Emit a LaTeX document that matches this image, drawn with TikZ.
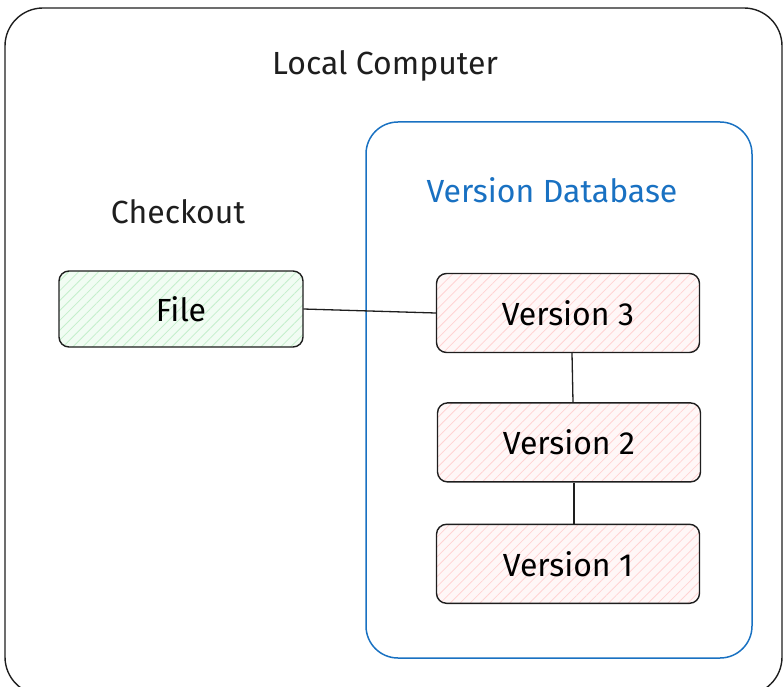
\documentclass[tikz,border=0pt]{standalone}
\usepackage{fontspec}
\setmainfont{Fira Sans}
\usetikzlibrary{positioning,patterns.meta}

\definecolor{inkblack}{HTML}{1E1E1E}
\definecolor{dbblue}{HTML}{1971C2}
\definecolor{greenfill}{HTML}{F1FCF3}
\definecolor{greenhatch}{HTML}{C4EFCC}
\definecolor{redfill}{HTML}{FFF7F7}
\definecolor{redhatch}{HTML}{FFD3D3}

\begin{document}
\begin{tikzpicture}[
	x=1pt, y=-1pt,
	frame/.style={rectangle, rounded corners=38pt, draw=inkblack, line width=1.4pt},
	group/.style={rectangle, rounded corners=32pt, draw=dbblue, line width=1.5pt},
	title/.style={font=\fontsize{32}{36}\selectfont, text=inkblack},
	main/.style={rectangle, rounded corners=10pt, draw=inkblack, line width=1.4pt,
		minimum width=263pt, minimum height=79pt, font=\fontsize{32}{36}\selectfont,
		preaction={fill=redfill}, pattern={Lines[angle=45,distance=7pt,line width=0.8pt]},
		pattern color=redhatch},
	checkout/.style={main, minimum width=244pt, minimum height=76pt,
		preaction={fill=greenfill}, pattern color=greenhatch},
	link/.style={draw=inkblack, line width=1.3pt}
	]
	\useasboundingbox (0,0) rectangle (784,687);

		\node (local) [frame, minimum width=777pt, minimum height=687pt] at (393.5,351.5) {};
		\node (localtitle) [title] at (385,66) {Local Computer};
		\node (db) [group, minimum width=386pt, minimum height=536pt] at (559,390) {};
		\node (dbtitle) [title, text=dbblue] at (552,190) {Version Database};
		\node (cotitle) [title] at (178,212) {Checkout};

		\node (file) [checkout] at (181,309) {File};
			\node (v3) [main] at (568,313) {Version 3};
			\node (v2) [main, below=49pt of v3, xshift=1pt] {Version 2};
			\node (v1) [main, below=41pt of v2, xshift=-1pt] {Version 1};

	\draw [link] (file.east) -- (v3.west);
	\draw [link] (v3.south) ++(4pt,0) -- ([xshift=4pt]v2.north);
	\draw [link] ([xshift=5pt]v2.south) -- ([xshift=6pt]v1.north);

	\end{tikzpicture}
\end{document}
